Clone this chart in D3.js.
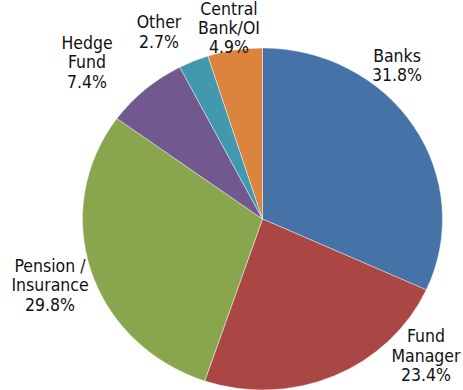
<!DOCTYPE html>
<html>
<head>
<meta charset="utf-8">
<script src="https://cdn.jsdelivr.net/npm/d3@7"></script>
<style>
  html, body { margin: 0; padding: 0; background: #fff; }
  svg { display: block; }
</style>
</head>
<body>
<svg id="chart" width="463" height="390"></svg>
<script>
// ---- data ----
const categories = ["Banks", "Fund Manager", "Pension / Insurance", "Hedge Fund", "Other", "Central Bank/OI"];
const shares = [31.8, 23.4, 29.8, 7.4, 2.7, 4.9];
const labelLines = [
  ["Banks"],
  ["Fund", "Manager"],
  ["Pension /", "Insurance"],
  ["Hedge", "Fund"],
  ["Other"],
  ["Central", "Bank/OI"]
];

// ---- layout / style (not data) ----
const colors = ["#4572A7", "#AA4643", "#89A54E", "#71588F", "#4198AF", "#DB843D"];
const labelAnchors = [[397, 61.5], [426, 342], [50, 271.5], [87, 48.5], [159, 28], [229, 15]];
const labelSpacing = [19.5, 19.5, 19.5, 19.5, 19.5, 19];
const W = 463, H = 390;
const cx = 262.5, cy = 219, rx = 180, ry = 171;
const fontSize = 17.5;

const svg = d3.select("#chart");

const pie = d3.pie().sort(null).value(d => d.v)
  .startAngle(0).endAngle(2 * Math.PI);
const data = categories.map((c, i) => ({ name: c, v: shares[i], i }));
const arcs = pie(data);
const arc = d3.arc().innerRadius(0).outerRadius(rx);

const g = svg.append("g")
  .attr("transform", `translate(${cx},${cy}) scale(1,${ry / rx})`);

g.selectAll("path").data(arcs).join("path")
  .attr("d", arc)
  .attr("fill", d => colors[d.data.i])
  .attr("stroke", "#ffffff")
  .attr("stroke-opacity", 0.55)
  .attr("stroke-width", 0.8);

const fmt = d3.format(".1f");
const lab = svg.append("g")
  .attr("font-family", "'DejaVu Sans Condensed', 'DejaVu Sans', sans-serif")
  .attr("font-size", fontSize)
  .attr("fill", "#111111")
  .attr("text-anchor", "middle");

arcs.forEach(d => {
  const i = d.data.i;
  const lines = labelLines[i].concat([fmt(d.data.v) + "%"]);
  const t = lab.append("text")
    .attr("x", labelAnchors[i][0])
    .attr("y", labelAnchors[i][1]);
  lines.forEach((ln, k) => {
    t.append("tspan")
      .attr("x", labelAnchors[i][0])
      .attr("dy", k === 0 ? 0 : labelSpacing[i])
      .text(ln);
  });
});
</script>
</body>
</html>
